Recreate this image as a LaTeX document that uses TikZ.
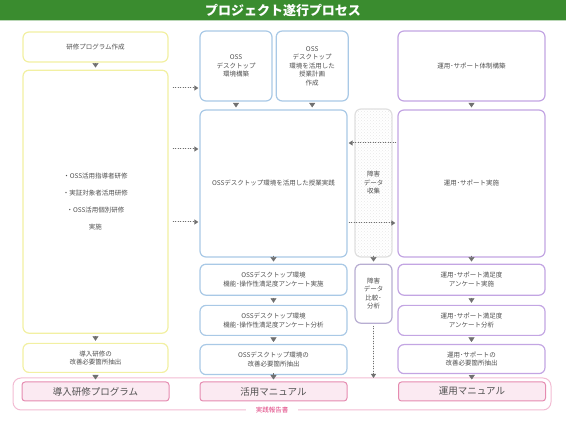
\documentclass[tikz,border=0pt]{standalone}
\usepackage{fontspec}
\setmainfont{Noto Sans CJK JP}
\usetikzlibrary{arrows.meta,positioning,patterns}
\definecolor{bargreen}{HTML}{3A8C2F}
\definecolor{ylwline}{HTML}{F2F0A2}
\definecolor{bluline}{HTML}{A9C9E6}
\definecolor{purline}{HTML}{C3A5E3}
\definecolor{purgray}{HTML}{B8AED2}
\definecolor{pinkout}{HTML}{F2BCD3}
\definecolor{pinkline}{HTML}{E58BB0}
\definecolor{pinkfill}{HTML}{FBEAF2}
\definecolor{pinktext}{HTML}{E0407F}
\definecolor{txtgray}{HTML}{505050}
\definecolor{arrgray}{HTML}{707070}

\begin{document}
\begin{tikzpicture}[x=1pt, y=-1pt,
    box/.style={draw, rounded corners=6pt, line width=1.2pt, align=center, inner sep=2pt,
      font=\fontsize{6.5}{8.5}\selectfont, text=txtgray},
    wh/.style 2 args={minimum width=#1pt, minimum height=#2pt},
    ylw/.style={box, draw=ylwline, fill=white},
    blu/.style={box, draw=bluline, fill=white},
    pur/.style={box, draw=purline, fill=white},
    man/.style={draw=pinkline, fill=pinkfill, rounded corners=3pt, line width=1pt, text=txtgray,
      font=\fontsize{9.5}{11}\selectfont, minimum width=147pt, minimum height=19pt},
    tri/.style={-{Triangle[width=6pt,length=4.5pt]}, draw=arrgray, fill=arrgray, shorten <=2pt, shorten >=2pt},
    dotarr/.style={-{Triangle[width=5pt,length=4pt]}, draw=arrgray, fill=arrgray, line width=1pt,
      dash pattern=on 1pt off 1.5pt}]
  \useasboundingbox (0,0) rectangle (566,425);

  % title bar
  \fill[bargreen] (0,0) rectangle (566,20);
  \draw[bargreen!35, line width=1pt] (0,20.5) -- (566,20.5);
  \node[text=white, font=\bfseries\fontsize{13}{14}\selectfont] (title) at (283,10) {プロジェクト遂行プロセス};

  % report frame
  \node[draw=pinkout, rounded corners=8pt, line width=1pt, wh={538}{32}] (report) at (282,394) {};

  % left column
  \node[ylw, wh={145}{30}] (prog) at (95.5,47) {研修プログラム作成};
  \node[ylw, wh={145}{263}, below=7pt of prog, font=\fontsize{6.5}{17}\selectfont] (train)
    {・OSS活用指導者研修\\・実証対象者活用研修\\・OSS活用個別研修\\実施};
  \node[ylw, wh={145}{29}, below=9pt of train] (fix1) {導入研修の\\改善必要箇所抽出};

  % middle column
  \node[blu, wh={72}{70}] (env) at (236,66) {OSS\\デスクトップ\\環境構築};
  \node[blu, wh={72}{70}, right=3pt of env] (plan) {OSS\\デスクトップ\\環境を活用した\\授業計画\\作成};
  \node[blu, wh={147}{147}] (lesson) at (273.5,183.5) {OSSデスクトップ環境を活用した授業実践};
  \node[blu, wh={147}{31}, below=6pt of lesson] (ask1) {OSSデスクトップ環境\\機能･操作性満足度アンケート実施};
  \node[blu, wh={147}{30}, below=9pt of ask1] (ask2) {OSSデスクトップ環境\\機能･操作性満足度アンケート分析};
  \node[blu, wh={147}{30}, below=8pt of ask2] (fix2) {OSSデスクトップ環境の\\改善必要箇所抽出};

  % fault data
  \node[box, draw=gray!25, pattern=crosshatch dots, pattern color=gray!18, wh={37}{148}] (collect) at (373.5,183) {障害\\データ\\収集};
  \node[box, draw=purgray, fill=white, wh={37}{59}, below=6pt of collect] (cmp) {障害\\データ\\比較･\\分析};
  \coordinate (cmpend) at (373.5,378);

  % right column
  \node[pur, wh={147}{70}] (setup) at (471.5,66) {運用･サポート体制構築};
  \node[pur, wh={147}{147}] (run) at (471.5,183.5) {運用･サポート実施};
  \node[pur, wh={147}{31}, below=6pt of run] (sat1) {運用･サポート満足度\\アンケート実施};
  \node[pur, wh={147}{30}, below=9pt of sat1] (sat2) {運用･サポート満足度\\アンケート分析};
  \node[pur, wh={147}{29}, below=8pt of sat2] (fix3) {運用･サポートの\\改善必要箇所抽出};

  % manuals
  \node[man] (man1) at (95.5,391.5) {導入研修プログラム};
  \node[man] (man2) at (273.5,391.5) {活用マニュアル};
  \node[man] (man3) at (472,391.5) {運用マニュアル};
  \node[fill=white, text=pinktext, font=\fontsize{6.5}{7}\selectfont, inner xsep=10pt, inner ysep=1pt] (replabel)
    at (report.south -| 272,0) {実践報告書};

  \foreach \a/\b in {prog/train, train/fix1, fix1/man1, lesson/ask1, ask1/ask2, ask2/fix2, fix2/man2,
      setup/run, run/sat1, sat1/sat2, sat2/fix3, fix3/man3, collect/cmp}
    \draw[tri] (\a) -- (\b);
  \draw[tri] (env.south) -- (env.south |- lesson.north);
  \draw[tri] (plan.south) -- (plan.south |- lesson.north);
  \draw[dotarr, shorten <=2pt] (cmp) -- (cmpend);

  % dotted links
  \foreach \y/\to in {88/env, 149/lesson, 222/lesson}
    \draw[dotarr, shorten <=4pt, shorten >=1pt] (train.east |- 0,\y) -- (\to.west |- 0,\y);
  \draw[dotarr, shorten <=1pt, shorten >=1pt] (run.west |- 0,143) -- (lesson.east |- 0,143);
  \draw[dotarr, shorten <=1pt, shorten >=2pt] (lesson.east |- 0,223) -- (run.west |- 0,223);
\end{tikzpicture}
\end{document}
